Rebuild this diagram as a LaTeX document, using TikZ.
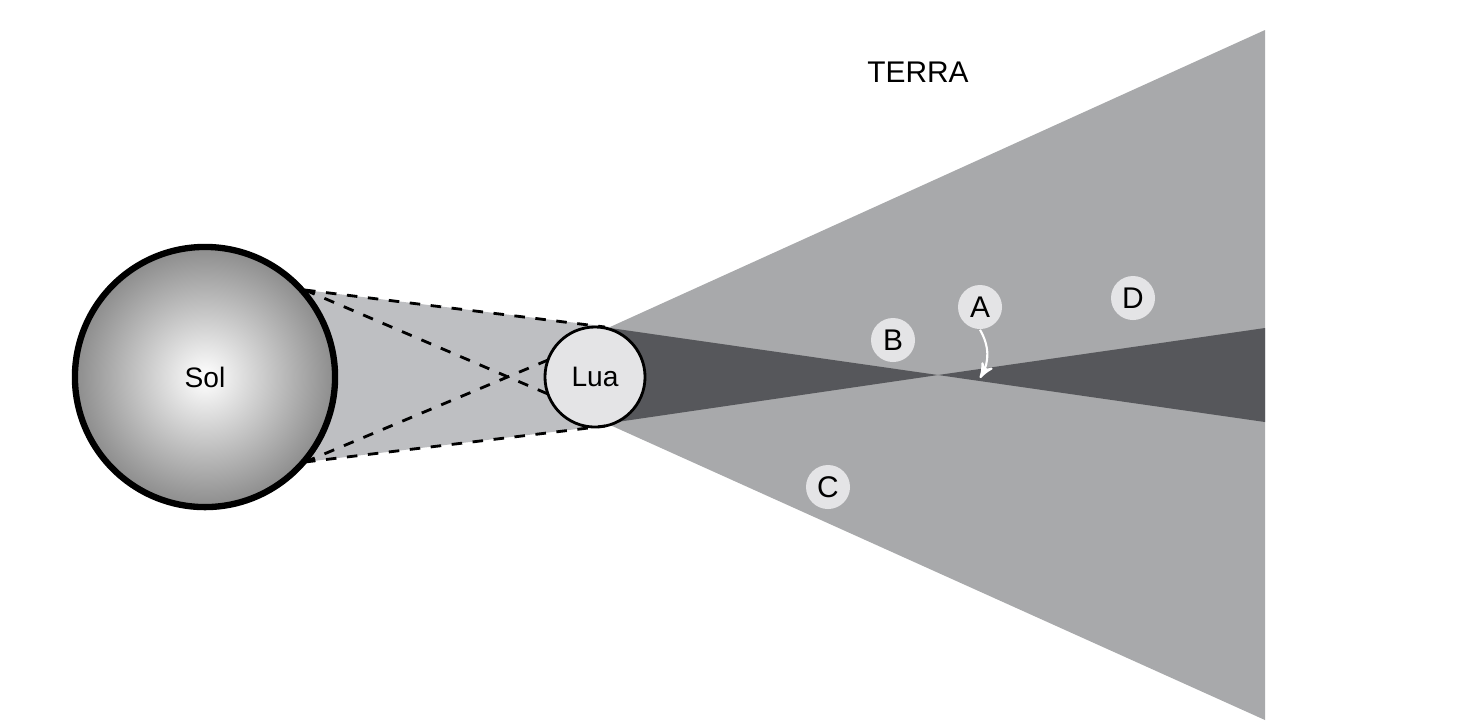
\documentclass[tikz,border=0pt]{standalone}
\usepackage{fontspec}
\setmainfont{Liberation Sans}
\usetikzlibrary{arrows}
\definecolor{penumbra}{RGB}{168,169,171}
\definecolor{umbra}{RGB}{86,87,91}
\definecolor{between}{RGB}{190,191,194}
\definecolor{disc}{RGB}{228,228,230}
\begin{document}
\begin{tikzpicture}[x=0.01cm, y=-0.01cm, >=stealth', font=\fontsize{8.5pt}{10pt}\selectfont,
  spot/.style={circle, fill=disc, minimum size=0.44cm, inner sep=0pt}]
  \useasboundingbox (0,0) rectangle (1470,720);
  % shadows
  \fill[between] (305,290) -- (610,327) -- (610,425) -- (305,462) -- cycle;
  \fill[penumbra] (610,327) -- (1265,30) -- (1265,720) -- (610,425) -- cycle;
  \fill[umbra] (610,328) -- (938,375) -- (610,423) -- cycle;
  \fill[umbra] (938,375) -- (1265,328) -- (1265,422) -- cycle;
  % sun and moon
  \node[circle, minimum size=2.6cm, line width=1.8pt, draw, inner color=white, outer color=gray!90] (sol) at (205,377) {\fontsize{8pt}{10pt}\selectfont Sol};
  \node[circle, minimum size=1.0cm, inner sep=0pt, thick, draw, fill=disc] (lua) at (595,377) {\fontsize{8pt}{10pt}\selectfont Lua};
  \coordinate (st) at (305,290);
  \coordinate (sb) at (305,462);
  \coordinate (lt) at (605,327);
  \coordinate (lb) at (605,426);
  \coordinate (lu) at (548,360);
  \coordinate (ld) at (548,394);
  \draw[dashed, thick] (st) -- (lt) (sb) -- (lb) (st) -- (ld) (sb) -- (lu);
  % labels
  \node[spot] (b) at (893,340) {B};
  \node[spot] (a) at (980,307) {A};
  \node[spot] (d) at (1133,298) {D};
  \node[spot] (c) at (828,487) {C};
  \coordinate (hit) at (980,378);
  \draw[->, white, semithick] (a.south) to[bend left=30] (hit);
  \node (terra) at (918,72) {TERRA};
\end{tikzpicture}
\end{document}
